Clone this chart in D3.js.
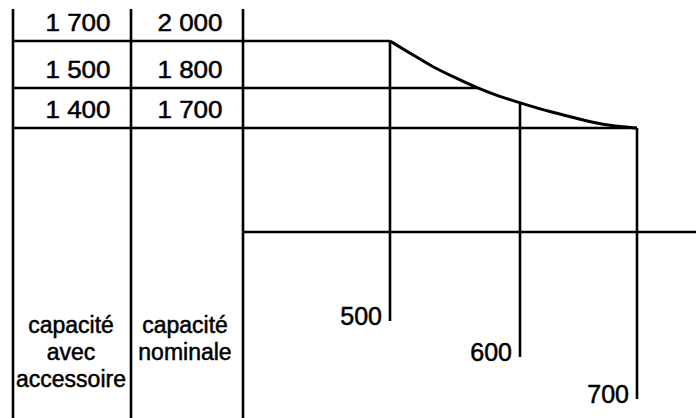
<!DOCTYPE html>
<html lang="fr">
<head>
<meta charset="utf-8" />
<script src="https://cdn.jsdelivr.net/npm/d3@7"></script>
<style>
  body { margin: 0; background: #fff; }
  text { font-family: "Liberation Sans", Arial, sans-serif; fill: #000; stroke: #000; stroke-width: 0.5px; }
</style>
</head>
<body>
<svg id="chart"></svg>
<script>
var w = 696, h = 418;

// reach (portée) columns and the capacity table
var reach = [500, 600, 700];
var capNominal = [2000, 1800, 1700];
var capAccessory = [1700, 1500, 1400];
var capLabels = ['1 700', '2 000', '1 500', '1 800', '1 400', '1 700'];

// load curve
var curveReach = [500, 518, 533, 549, 567, 585, 600, 626, 654, 677, 700];
var curveCap   = [2000, 1940, 1889, 1847, 1800, 1778, 1763, 1740, 1720, 1705, 1700];

var colLabels = [['capacité', 'avec', 'accessoire'], ['capacité', 'nominale']];

// layout
var colX = [13, 131, 243];
var colMid = [78, 190];
var labMid = [71, 185];
var tableTop = 9;
var groundY = 232;
var reachLabelY = [321, 357, 399];

var svg = d3.select('#chart')
            .attr('width', w)
            .attr('height', h);

var xScale = d3.scaleLinear()
               .domain([500, 600, 700])
               .range([390, 520, 637]);
var yScale = d3.scaleLinear()
               .domain([1700, 1800, 2000])
               .range([128, 88, 41]);

// reach where the curve reaches a given capacity
var capAt = d3.scaleLinear().domain(curveReach).range(curveCap);
function reachFor(c) {
    for (var i = 0; i < curveCap.length - 1; i++) {
        if (c <= curveCap[i] && c >= curveCap[i + 1]) {
            var t = (curveCap[i] - c) / (curveCap[i] - curveCap[i + 1]);
            return curveReach[i] + t * (curveReach[i + 1] - curveReach[i]);
        }
    }
    return curveReach[curveReach.length - 1];
}

var g = svg.append('g')
           .attr('stroke', '#000')
           .attr('fill', 'none');

// table columns
g.selectAll('line.col')
 .data(colX)
 .enter()
 .append('line')
 .attr('x1', function(d) { return d; })
 .attr('x2', function(d) { return d; })
 .attr('y1', tableTop)
 .attr('y2', h)
 .attr('stroke-width', 2.6);

// capacity rows, running out to the curve
g.selectAll('line.row')
 .data(capNominal)
 .enter()
 .append('line')
 .attr('x1', colX[0])
 .attr('x2', function(d) { return xScale(reachFor(d)); })
 .attr('y1', function(d) { return yScale(d); })
 .attr('y2', function(d) { return yScale(d); })
 .attr('stroke-width', 2.4);

// ground line
g.append('line')
 .attr('x1', colX[2])
 .attr('x2', w)
 .attr('y1', groundY)
 .attr('y2', groundY)
 .attr('stroke-width', 2.4);

// reach verticals
g.selectAll('line.reach')
 .data(reach)
 .enter()
 .append('line')
 .attr('x1', function(d) { return xScale(d); })
 .attr('x2', function(d) { return xScale(d); })
 .attr('y1', function(d) { return yScale(capAt(d)); })
 .attr('y2', function(d, i) { return reachLabelY[i]; })
 .attr('stroke-width', 2.6);

// load curve
var line = d3.line()
             .x(function(d) { return xScale(d[0]); })
             .y(function(d) { return yScale(d[1]); })
             .curve(d3.curveBasis);
g.append('path')
 .datum(d3.zip(curveReach, curveCap))
 .attr('d', line)
 .attr('stroke-width', 3);

// table values
var cells = [];
capNominal.forEach(function(c, i) {
    cells.push({ x: colMid[0], y: yScale(c) - 10, t: capLabels[i * 2] });
    cells.push({ x: colMid[1], y: yScale(c) - 10, t: capLabels[i * 2 + 1] });
});
svg.selectAll('text.cell')
   .data(cells)
   .enter()
   .append('text')
   .attr('class', 'cell')
   .attr('text-anchor', 'middle')
   .attr('font-size', 23)
   .attr('transform', function(d) { return 'translate(' + d.x + ',' + d.y + ') scale(1.13,1)'; })
   .text(function(d) { return d.t; });

// column titles
colLabels.forEach(function(lines, j) {
    svg.selectAll('text.lab' + j)
       .data(lines)
       .enter()
       .append('text')
       .attr('text-anchor', 'middle')
       .attr('font-size', 23)
       .attr('x', labMid[j])
       .attr('y', function(d, i) { return 333 + i * 27; })
       .text(function(d) { return d; });
});

// reach labels
svg.selectAll('text.reach')
   .data(reach)
   .enter()
   .append('text')
   .attr('text-anchor', 'end')
   .attr('font-size', 25)
   .attr('x', function(d) { return xScale(d) - 8; })
   .attr('y', function(d, i) { return reachLabelY[i] + 4; })
   .text(function(d) { return d; });
</script>
</body>
</html>
